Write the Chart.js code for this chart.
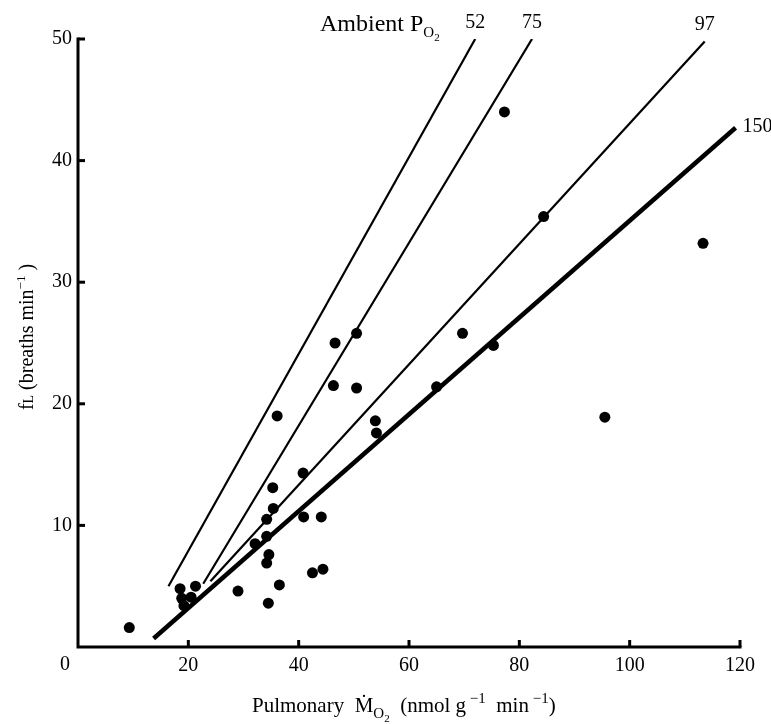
<!DOCTYPE html>
<html>
<head>
<meta charset="utf-8">
<script src="https://cdn.jsdelivr.net/npm/chart.js@4.4.1/dist/chart.umd.min.js"></script>
<style>
  html, body { margin: 0; padding: 0; background: #fff; }
  #wrap { width: 771px; height: 724px; }
</style>
</head>
<body>
<div id="wrap"><canvas id="chart" width="771" height="724"></canvas></div>
<script>
// pulmonary MO2 (nmol g-1 min-1) and fL (breaths min-1), one entry per fish
const mo2 = [9.3, 18.5, 18.8, 19.2, 20.5, 21.3, 29.0, 32.1, 34.2, 34.2, 35.3, 35.4,
             34.2, 34.6, 34.5, 36.5, 36.1, 40.8, 40.9, 44.1, 42.5, 44.4, 46.6, 46.3,
             50.5, 50.5, 53.9, 54.1, 65.0, 69.7, 75.3, 77.3, 84.4, 95.5, 113.3];
const fl  = [1.6, 4.8, 4.0, 3.4, 4.1, 5.0, 4.6, 8.5, 9.1, 10.5, 13.1, 11.4,
             6.9, 7.6, 3.6, 5.1, 19.0, 14.3, 10.7, 10.7, 6.1, 6.4, 25.0, 21.5,
             25.8, 21.3, 18.6, 17.6, 21.4, 25.8, 24.8, 44.0, 35.4, 18.9, 33.2];

// regression lines, one per ambient PO2
const po2Labels = ['52', '75', '97', '150'];
const lineX = [[16.4, 72.0], [22.7, 82.3], [24.0, 113.6], [13.7, 119.2]];
const lineY = [[5.0, 50.0], [5.2, 50.0], [5.4, 49.8], [0.7, 42.7]];

const xTicks = [0, 20, 40, 60, 80, 100, 120];
const yTicks = [0, 10, 20, 30, 40, 50];

const FONT = '"Liberation Serif", "Times New Roman", serif';

function drawRich(ctx, parts, x, y, align) {
    let w = 0;
    parts.forEach(p => {
        ctx.font = p[1] + 'px ' + FONT;
        w += ctx.measureText(p[0]).width;
    });
    let cx = align === 'center' ? x - w / 2 : x;
    parts.forEach(p => {
        ctx.font = p[1] + 'px ' + FONT;
        ctx.fillText(p[0], cx, y + p[2]);
        cx += ctx.measureText(p[0]).width;
    });
}

const axesAndText = {
    id: 'axesAndText',
    afterDraw(chart) {
        const ctx = chart.ctx;
        const xs = chart.scales.x, ys = chart.scales.y;
        const x0 = xs.getPixelForValue(0), y0 = ys.getPixelForValue(0);
        ctx.save();
        ctx.strokeStyle = '#000';
        ctx.fillStyle = '#000';
        ctx.lineWidth = 3;
        ctx.lineCap = 'square';
        ctx.beginPath();
        ctx.moveTo(x0, ys.getPixelForValue(50));
        ctx.lineTo(x0, y0);
        ctx.lineTo(xs.getPixelForValue(120), y0);
        ctx.stroke();
        ctx.lineCap = 'butt';
        yTicks.forEach(v => {
            if (v === 0) return;
            const py = ys.getPixelForValue(v);
            ctx.beginPath(); ctx.moveTo(x0, py); ctx.lineTo(x0 + 7, py); ctx.stroke();
        });
        xTicks.forEach(v => {
            if (v === 0) return;
            const px = xs.getPixelForValue(v);
            ctx.beginPath(); ctx.moveTo(px, y0); ctx.lineTo(px, y0 - 7); ctx.stroke();
        });

        // shared zero label sits left of the corner
        ctx.font = '20px ' + FONT;
        ctx.textAlign = 'center';
        ctx.textBaseline = 'alphabetic';
        ctx.fillText('0', x0 - 13, y0 + 23);

        // PO2 labels at the line ends
        po2Labels.forEach((lab, i) => {
            const px = xs.getPixelForValue(lineX[i][1]);
            const py = ys.getPixelForValue(lineY[i][1]);
            if (i < 3) {
                ctx.textAlign = 'center';
                ctx.fillText(lab, px, py - 11);
            } else {
                ctx.textAlign = 'left';
                ctx.fillText(lab, px + 7, py + 4);
            }
        });
        ctx.textAlign = 'left';
        drawRich(ctx, [['Ambient P', 24, 0], ['O', 15, 6], ['2', 11, 10]], 320, 31, 'left');

        // x title
        drawRich(ctx, [['Pulmonary  ', 21, 0], ['\u1E40', 21, 0], ['O', 15, 6], ['2', 11, 10],
                       ['  (nmol g', 21, 0], [' \u22121', 15, -9], ['  min', 21, 0],
                       [' \u22121', 15, -9], [')', 21, 0]], 252, 712, 'left');

        // y title
        ctx.translate(33, 337);
        ctx.rotate(-Math.PI / 2);
        drawRich(ctx, [['f', 20, 0], ['L', 14, 0], [' (breaths min', 20, 0],
                       ['\u22121', 13, -8], [' )', 20, 0]], 0, 0, 'center');
        ctx.restore();
    }
};

const lineSets = po2Labels.map((lab, i) => ({
    type: 'line',
    label: lab,
    data: [{ x: lineX[i][0], y: lineY[i][0] }, { x: lineX[i][1], y: lineY[i][1] }],
    borderColor: '#000',
    borderWidth: i === 3 ? 4.5 : 2.2,
    pointRadius: 0,
    fill: false
}));

new Chart(document.getElementById('chart'), {
    type: 'scatter',
    data: {
        datasets: [{
            label: 'fL',
            data: mo2.map((v, i) => ({ x: v, y: fl[i] })),
            backgroundColor: '#000',
            borderColor: '#000',
            pointRadius: 5.5,
            borderWidth: 0
        }].concat(lineSets)
    },
    options: {
        responsive: false,
        animation: false,
        layout: { padding: { top: 39, right: 31, left: 0, bottom: 0 } },
        plugins: { legend: { display: false }, tooltip: { enabled: false } },
        scales: {
            x: {
                type: 'linear',
                min: 0, max: 120,
                afterBuildTicks: s => { s.ticks = xTicks.map(v => ({ value: v })); },
                afterFit: s => { s.height = 77; },
                grid: { display: false, drawTicks: false },
                border: { display: false },
                ticks: {
                    color: '#000',
                    padding: 7,
                    font: { family: FONT, size: 20 },
                    callback: v => (v === 0 ? '' : v)
                }
            },
            y: {
                min: 0, max: 50,
                afterBuildTicks: s => { s.ticks = yTicks.map(v => ({ value: v })); },
                afterFit: s => { s.width = 78; },
                grid: { display: false, drawTicks: false },
                border: { display: false },
                ticks: {
                    color: '#000',
                    padding: 6,
                    font: { family: FONT, size: 20 },
                    callback: v => (v === 0 ? '' : v)
                }
            }
        }
    },
    plugins: [axesAndText]
});
</script>
</body>
</html>
